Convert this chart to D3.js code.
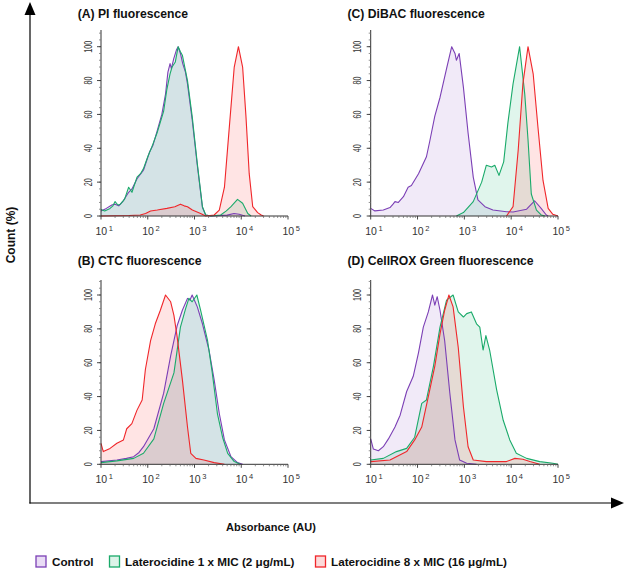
<!DOCTYPE html>
<html>
<head>
<meta charset="utf-8">
<script src="https://cdn.jsdelivr.net/npm/d3@7/dist/d3.min.js"></script>
<style>
  html, body { margin: 0; padding: 0; background: #fff; }
  svg { display: block; font-family: "Liberation Sans", Arial, sans-serif; }
</style>
</head>
<body>
<svg id="chart" width="625" height="571"></svg>
<script>
// ---------- DATA (fluorescence in AU, count in %) ----------
const seriesNames = ["Control", "Laterocidine 1 x MIC (2 μg/mL)", "Laterocidine 8 x MIC (16 μg/mL)"];
const panelTitles = ["(A) PI fluorescence", "(C) DiBAC fluorescence", "(B) CTC fluorescence", "(D) CellROX Green fluorescence"];
const xTickExponents = [1, 2, 3, 4, 5];
const yTickValues = [0, 20, 40, 60, 80, 100];

// Panel A: PI
const piControl = [[10,3],[13,4.5],[17,6.5],[20,7],[24,6],[30,9],[39,14],[46,16],[59,22],[81,27],[110,38],[130,42],[158,50],[200,60],[240,72],[270,85],[300,90],[320,87],[360,93],[410,98],[447,100],[500,96],[560,90],[640,85],[708,78],[891,57],[1148,30],[1479,5],[1738,0.5],[2240,0],[5000,0.5],[7000,1.5],[9000,1],[12000,0]];
const piMic1 = [[10,3.9],[12,3],[15.6,4.5],[18,6],[20,8.5],[23,6.5],[26,7],[32,10],[39,17],[46,14],[59,23],[70,25],[81,28],[100,35],[123,41],[158,49],[219,62],[257,75],[300,84],[331,88],[389,91],[447,100],[500,97],[550,95],[708,80],[891,59],[1148,31],[1479,5.5],[1738,0.6],[2240,0],[3630,0.6],[4800,3],[6030,5.5],[8320,9.8],[10700,7.5],[13800,1.5],[16200,0]];
const piMic8 = [[10,0],[40,0.3],[69,0.6],[90,1.5],[115,3],[160,3.5],[257,4.5],[380,5.5],[500,7],[600,6],[708,5.5],[900,3.5],[1350,1.5],[1740,0],[2630,0.6],[3390,3.5],[4370,17],[5500,51],[7080,88],[8700,100],[10700,88],[12600,59],[14800,25],[17600,5.5],[22400,2],[26700,0.6],[30000,0]];

// Panel C: DiBAC
const dibacControl = [[10,4.5],[12.3,3],[18.6,3.5],[25.8,5],[30,7],[33,8.5],[39,8],[50,11.4],[63,17],[74,18],[105,25],[155,35],[182,44],[234,59],[302,70],[417,87],[537,100],[631,96],[676,92],[776,96],[955,76],[1202,49],[1549,23],[1950,9.5],[2754,5.5],[4074,3.5],[7943,2.5],[10965,2.4],[21380,4],[31620,9],[43650,4.5],[56230,0.6],[61660,0]];
const dibacMic1 = [[676,0],[955,2],[1549,8.5],[2344,20],[2951,30],[3802,29],[4467,30],[5495,24],[6918,32],[8511,55],[10965,78],[15140,100],[19500,72],[22900,45],[26900,13],[34670,3.5],[43650,0.6],[52500,0]];
const dibacMic8 = [[7943,0],[10965,5.5],[14130,39],[17780,78],[22900,100],[29500,84],[37150,53],[47860,21],[61660,4.5],[77600,1],[100000,0]];

// Panel B: CTC
const ctcControl = [[10,1.6],[21.9,2.5],[35,3.5],[50,4.5],[65,7],[81,10.4],[135,21],[219,42],[309,64],[427,82],[550,91],[708,98],[800,97],[891,100],[1148,93],[1479,83],[2042,67.5],[2630,50],[3390,30],[4365,14.4],[6030,4.5],[8320,1],[10700,0]];
const ctcMic1 = [[10,1],[21.9,2],[50,3.5],[81,6.5],[135,15],[219,36],[363,54],[500,81],[646,92],[759,98],[891,96],[1122,100],[1349,91],[1905,73],[2400,54],[3090,30],[3981,16],[5130,6.5],[7080,1.6],[9550,0]];
const ctcMic8 = [[10,12.4],[11.2,7.5],[15.6,9.4],[21.9,12.4],[30.2,14.4],[35.5,21],[45.7,24],[58.9,32],[75.9,38],[89,56],[115,73],[145,83],[186,91],[240,100],[309,96],[363,88],[427,75],[550,50],[708,22],[832,6.5],[1072,3.5],[1585,2.5],[2630,1],[4365,0]];

// Panel D: CellROX Green
const cellroxControl = [[10,15],[11.4,9],[14.6,8],[18.6,10.4],[23.9,15],[33,22],[42.5,29],[58.6,43],[81,52],[105,66],[133,81],[170,90],[209,100],[234,94],[263,99],[302,91],[380,73],[490,42],[631,14.4],[794,2.5],[1122,0.6],[1820,0]];
const cellroxMic1 = [[10,2.5],[18.6,3.5],[35.5,7.5],[58.6,9.4],[87,16],[123,36],[155,38],[219,58],[302,81],[417,97],[575,100],[741,90],[955,87],[1122,89],[1413,90],[1820,83],[2138,81],[2512,67.5],[2884,76],[3467,67.5],[4898,44],[6761,26],[9333,14.4],[12880,6.5],[21380,3.5],[40740,1.6],[77600,0.6],[100000,0]];
const cellroxMic8 = [[10,1.6],[25.8,2.5],[58.6,7.5],[87,14.4],[123,22],[170,40],[234,58],[302,77],[380,91],[468,100],[575,93],[741,69],[955,34],[1202,10.4],[1549,2.5],[2951,1.6],[7943,1.6],[12000,3.5],[17780,3],[25100,1.6],[40740,0]];

// ---------- STYLE ----------
const lineColors = ["#7b3fb5", "#1aaa6a", "#f0262a"];
const fillColors = ["#a57fd6", "#3cc08a", "#ff5a5a"];
const legendFills = ["#e9dcf5", "#dcf3e8", "#fcdada"];

const panels = [
  { title: panelTitles[0], data: [piControl, piMic1, piMic8], x0: 101, x1: 288, yBase: 216, yTop: 46.7, axisTop: 30, titleY: 18.3 },
  { title: panelTitles[1], data: [dibacControl, dibacMic1, dibacMic8], x0: 370.7, x1: 558, yBase: 216, yTop: 46.7, axisTop: 30, titleY: 18.3 },
  { title: panelTitles[2], data: [ctcControl, ctcMic1, ctcMic8], x0: 101, x1: 288, yBase: 464.3, yTop: 295, axisTop: 280, titleY: 265 },
  { title: panelTitles[3], data: [cellroxControl, cellroxMic1, cellroxMic8], x0: 370.7, x1: 558, yBase: 464.3, yTop: 295, axisTop: 280, titleY: 265 }
];

const svg = d3.select("#chart");

panels.forEach(p => {
  const x = d3.scaleLog().domain([10, 100000]).range([p.x0, p.x1]);
  const y = d3.scaleLinear().domain([0, 100]).range([p.yBase, p.yTop]);
  const g = svg.append("g");

  g.append("text").attr("x", p.x0 - 23.3).attr("y", p.titleY)
    .attr("font-size", 12.2).attr("font-weight", "bold").attr("fill", "#111")
    .text(p.title);

  const area = d3.area().x(d => x(d[0])).y0(y(0)).y1(d => y(d[1]));
  const line = d3.line().x(d => x(d[0])).y(d => y(d[1]));
  p.data.forEach((s, i) => {
    g.append("path").datum(s).attr("d", area).attr("fill", fillColors[i]).attr("fill-opacity", 0.16);
  });
  p.data.forEach((s, i) => {
    g.append("path").datum(s).attr("d", line).attr("fill", "none")
      .attr("stroke", lineColors[i]).attr("stroke-width", 1.1).attr("stroke-linejoin", "round");
  });

  const yAxisG = g.append("g");
  yAxisG.append("line").attr("x1", p.x0).attr("x2", p.x0).attr("y1", p.axisTop).attr("y2", p.yBase)
    .attr("stroke", "#333").attr("stroke-width", 1);
  d3.range(0, 109, 4).forEach(v => {
    yAxisG.append("line").attr("x1", p.x0 - 2).attr("x2", p.x0).attr("y1", y(v)).attr("y2", y(v))
      .attr("stroke", "#777").attr("stroke-width", 0.8);
  });
  yTickValues.forEach(v => {
    yAxisG.append("line").attr("x1", p.x0 - 4).attr("x2", p.x0).attr("y1", y(v)).attr("y2", y(v))
      .attr("stroke", "#333").attr("stroke-width", 0.9);
    const s = String(v);
    yAxisG.append("text")
      .attr("transform", `translate(${p.x0 - 9.3},${y(v)}) rotate(-90)`)
      .attr("text-anchor", "middle").attr("font-size", 10.5).attr("fill", "#333")
      .attr("textLength", s.length * 4).attr("lengthAdjust", "spacingAndGlyphs")
      .text(s);
  });

  const xAxisG = g.append("g");
  xAxisG.append("line").attr("x1", p.x0).attr("x2", p.x1).attr("y1", p.yBase).attr("y2", p.yBase)
    .attr("stroke", "#333").attr("stroke-width", 1);
  xTickExponents.forEach((e, k) => {
    const v = Math.pow(10, e);
    xAxisG.append("line").attr("x1", x(v)).attr("x2", x(v)).attr("y1", p.yBase).attr("y2", p.yBase + 3.5)
      .attr("stroke", "#333").attr("stroke-width", 0.9);
    if (k < xTickExponents.length - 1) {
      for (let m = 2; m <= 9; m++) {
        xAxisG.append("line").attr("x1", x(v * m)).attr("x2", x(v * m)).attr("y1", p.yBase).attr("y2", p.yBase + 2)
          .attr("stroke", "#666").attr("stroke-width", 0.7);
      }
    }
    const t = xAxisG.append("text").attr("x", x(v) - 5.5).attr("y", p.yBase + 19)
      .attr("font-size", 10.5).attr("fill", "#333");
    t.append("tspan").text("10");
    t.append("tspan").attr("dx", 1.5).attr("dy", -4).attr("font-size", 7.5).text(String(e));
  });
});

// ---------- Big frame axes ----------
svg.append("line").attr("x1", 30).attr("x2", 30).attr("y1", 12).attr("y2", 503.5).attr("stroke", "#000").attr("stroke-width", 1.2);
svg.append("path").attr("d", "M30,2 L24.5,15 L35.5,15 Z").attr("fill", "#000");
svg.append("line").attr("x1", 29.4).attr("x2", 614).attr("y1", 503).attr("y2", 503).attr("stroke", "#000").attr("stroke-width", 1.2);
svg.append("path").attr("d", "M624,503 L611,497.5 L611,508.5 Z").attr("fill", "#000");

svg.append("text").attr("transform", "translate(15,235) rotate(-90)").attr("text-anchor", "middle")
  .attr("font-size", 12).attr("font-weight", "bold").attr("fill", "#111").text("Count (%)");
svg.append("text").attr("x", 271).attr("y", 531).attr("text-anchor", "middle")
  .attr("font-size", 11).attr("font-weight", "bold").attr("fill", "#111").text("Absorbance (AU)");

// ---------- Legend ----------
const legendBoxX = [36, 109.5, 315.5];
const legendTextX = [52, 125, 331];
seriesNames.forEach((name, i) => {
  svg.append("rect").attr("x", legendBoxX[i]).attr("y", 556).attr("width", 10).attr("height", 11)
    .attr("fill", legendFills[i]).attr("stroke", lineColors[i]).attr("stroke-width", 1.3);
  svg.append("text").attr("x", legendTextX[i]).attr("y", 566)
    .attr("font-size", 11.7).attr("font-weight", "bold").attr("fill", "#111").text(name);
});
</script>
</body>
</html>
